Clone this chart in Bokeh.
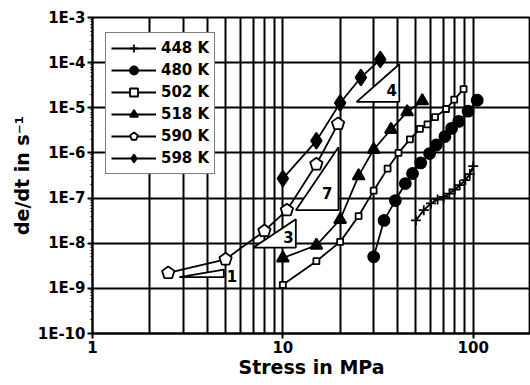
from bokeh.plotting import figure
from bokeh.models import FixedTicker, Legend, LegendItem, ColumnDataSource
from bokeh.core.properties import value
from bokeh.embed import file_html
from bokeh.resources import INLINE

# ---------------- data ----------------
s448 = [50, 55, 60, 65, 70, 75, 80, 85, 91, 96, 100]
r448 = [3.2e-8, 5.4e-8, 7.6e-8, 9.3e-8, 1.06e-7, 1.26e-7, 1.55e-7, 1.93e-7, 2.5e-7, 3.4e-7, 5.1e-7]

s480 = [30, 34, 39, 44, 48, 53, 59, 64, 71, 77, 84, 94, 105]
r480 = [5.0e-9, 3.2e-8, 8.8e-8, 2.1e-7, 3.5e-7, 6.0e-7, 9.7e-7, 1.5e-6, 2.3e-6, 3.5e-6, 5.0e-6, 8.4e-6, 1.47e-5]

s502 = [10, 15, 20, 25, 30, 35.5, 40.5, 46.5, 52.5, 57.5, 63, 72, 79.5, 89]
r502 = [1.2e-9, 4.0e-9, 1.07e-8, 4.0e-8, 1.46e-7, 4.5e-7, 1.0e-6, 2.0e-6, 3.4e-6, 4.3e-6, 6.2e-6, 9.4e-6, 1.52e-5, 2.6e-5]

s518 = [10, 15, 20, 25, 30, 37, 45, 54]
r518 = [4.7e-9, 9.0e-9, 3.35e-8, 3.1e-7, 1.19e-6, 3.3e-6, 8.1e-6, 1.42e-5]

s590 = [2.5, 5, 8, 10.5, 15, 19.5]
r590 = [2.2e-9, 4.4e-9, 1.87e-8, 5.4e-8, 5.6e-7, 4.4e-6]

s598 = [10, 15, 20, 25.7, 32.5]
r598 = [2.7e-7, 1.85e-6, 1.28e-5, 4.7e-5, 1.17e-4]

series_names = ["448 K", "480 K", "502 K", "518 K", "590 K", "598 K"]

# slope triangles (stress, rate vertices) and their labels
tri_stress = [[2.86, 4.9, 4.9], [7.0, 11.7, 11.7], [11.7, 19.6, 19.6], [24.4, 40.9, 40.9]]
tri_rate = [[1.77e-9, 2.6e-9, 1.77e-9], [8.0e-9, 3.4e-8, 8.0e-9], [5.4e-8, 1.34e-6, 5.4e-8], [1.35e-5, 9.2e-5, 1.35e-5]]
slope_text = ["1", "3", "7", "4"]
slope_stress = [5.4, 10.7, 17.1, 37.3]
slope_rate = [1.86e-9, 1.38e-8, 1.28e-7, 2.54e-5]

x_major = [1, 10, 100]
x_labels = ["1", "10", "100"]
x_minor = [2, 3, 4, 5, 6, 7, 8, 9, 20, 30, 40, 50, 60, 70, 80, 90, 200]
y_major = [1e-10, 1e-9, 1e-8, 1e-7, 1e-6, 1e-5, 1e-4, 1e-3]
y_labels = ["1E-10", "1E-9", "1E-8", "1E-7", "1E-6", "1E-5", "1E-4", "1E-3"]
y_minor = [m * 10.0 ** e for e in range(-10, -3) for m in range(2, 10)]

FONT = "DejaVu Sans"
LW = 1.8

p = figure(width=530, height=385, x_axis_type="log", y_axis_type="log",
           x_range=(1, 200), y_range=(1e-10, 1e-3),
           output_backend="svg", toolbar_location=None,
           min_border_left=92, min_border_right=0, min_border_top=17, min_border_bottom=52)
p.background_fill_color = "white"
p.border_fill_color = "white"
p.outline_line_color = "black"
p.outline_line_width = LW

xt = FixedTicker(ticks=x_major, minor_ticks=x_minor)
yt = FixedTicker(ticks=y_major, minor_ticks=y_minor)
p.xaxis.ticker = xt
p.yaxis.ticker = yt
p.xgrid.ticker = xt
p.ygrid.ticker = yt
p.xaxis.major_label_overrides = {v: l for v, l in zip(x_major, x_labels)}
p.yaxis.major_label_overrides = {v: l for v, l in zip(y_major, y_labels)}

for g in (p.xgrid, p.ygrid):
    g.grid_line_color = "black"
    g.grid_line_width = 2
    g.grid_line_alpha = 1.0
p.xgrid.minor_grid_line_color = "black"
p.xgrid.minor_grid_line_width = 2

for ax in (p.xaxis, p.yaxis):
    ax.axis_line_color = "black"
    ax.axis_line_width = 2
    ax.major_tick_line_color = "black"
    ax.major_tick_line_width = 2
    ax.major_tick_in = 0
    ax.major_tick_out = 5
    ax.major_label_text_font = FONT
    ax.major_label_text_font_style = "bold"
    ax.major_label_text_font_size = "15px"
    ax.major_label_text_color = "black"
    ax.axis_label_text_font = FONT
    ax.axis_label_text_font_style = "bold"
    ax.axis_label_text_font_size = "19px"
    ax.axis_label_text_color = "black"
    ax.major_label_standoff = 2
    ax.axis_label_standoff = 2
p.xaxis.axis_label_standoff = 0
p.xaxis.minor_tick_out = 0
p.xaxis.minor_tick_in = 0
p.yaxis.minor_tick_out = 2
p.yaxis.minor_tick_in = 0
p.yaxis.minor_tick_line_color = "black"
p.xaxis.axis_label = "Stress in MPa"
p.yaxis.axis_label = "de/dt in s\u207b\u00b9"

# slope triangles
p.patches(xs=tri_stress, ys=tri_rate, fill_color="white", line_color="black", line_width=LW)
p.text(x=slope_stress, y=slope_rate, text=slope_text, text_font=value(FONT), text_font_style="bold",
       text_font_size="15px", text_align="center", text_baseline="middle", text_color="black")

items = []

def add_series(xs, ys, name, marker, size, fill):
    src = ColumnDataSource(dict(x=xs, y=ys))
    ln = p.line("x", "y", source=src, line_color="black", line_width=LW)
    if marker == "pentagon":
        try:
            mk = p.ngon("x", "y", source=src, n=5, radius=6.5, radius_units="screen",
                        fill_color=fill, line_color="black", line_width=LW)
        except Exception:
            mk = p.scatter("x", "y", source=src, marker="hex", size=size,
                           fill_color=fill, line_color="black", line_width=LW)
    else:
        mk = p.scatter("x", "y", source=src, marker=marker, size=size,
                       fill_color=fill, line_color="black", line_width=LW)
    items.append(LegendItem(label=name, renderers=[ln, mk]))

add_series(s448, r448, series_names[0], "cross", 10, "black")
add_series(s480, r480, series_names[1], "circle", 11, "black")
add_series(s502, r502, series_names[2], "square", 6, "white")
add_series(s518, r518, series_names[3], "triangle", 12, "black")
add_series(s590, r590, series_names[4], "pentagon", 12, "white")
add_series(s598, r598, series_names[5], "diamond", 16, "black")

legend = Legend(items=items, location=(13, 159))
legend.border_line_color = "black"
legend.border_line_width = LW
legend.background_fill_color = "white"
legend.background_fill_alpha = 1.0
legend.label_text_font = FONT
legend.label_text_font_style = "bold"
legend.label_text_font_size = "15px"
legend.label_text_color = "black"
legend.glyph_width = 45
legend.glyph_height = 20
legend.label_height = 20
legend.spacing = 2
legend.padding = 5
legend.margin = 0
legend.label_standoff = 5
p.add_layout(legend, "center")

open("out.html", "w").write(file_html(p, INLINE))
